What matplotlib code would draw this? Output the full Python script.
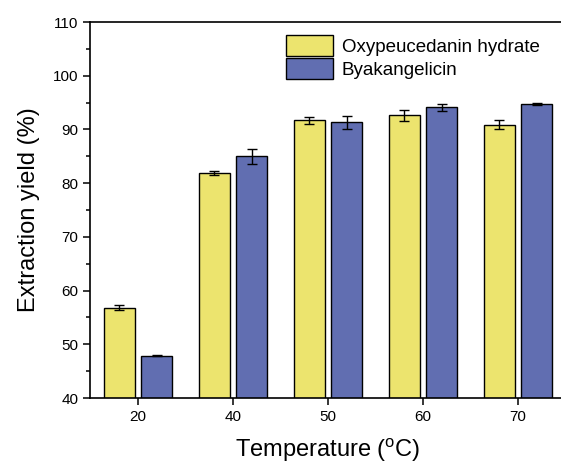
import numpy as np
import matplotlib.pyplot as plt

plt.rcParams['font.family'] = ['Liberation Sans', 'DejaVu Sans']
plt.rcParams['mathtext.fontset'] = 'custom'
plt.rcParams['mathtext.rm'] = 'Liberation Sans'

temps = ["20", "40", "50", "60", "70"]
oxy = [56.8, 81.9, 91.7, 92.6, 90.9]
oxy_err = [0.5, 0.45, 0.7, 1.1, 0.9]
byak = [47.9, 85.0, 91.3, 94.1, 94.8]
byak_err = [0.15, 1.4, 1.2, 0.6, 0.2]

fig = plt.figure(figsize=(5.61, 4.65), dpi=100)
ax = fig.add_axes([90 / 561, 67 / 465, 476 / 561, 376 / 465])

x = np.arange(len(temps))
w = 0.32
off = 0.195
ekw = dict(ecolor='black', elinewidth=1, capsize=3.5, capthick=1)
ax.bar(x - off, oxy, w, yerr=oxy_err, color='#ECE46E', edgecolor='black',
       linewidth=1, error_kw=ekw, label='Oxypeucedanin hydrate')
ax.bar(x + off, byak, w, yerr=byak_err, color='#616EB1', edgecolor='black',
       linewidth=1, error_kw=ekw, label='Byakangelicin')

ax.set_xlim(-0.505, 4.505)
ax.set_ylim(40, 110)
ax.set_xticks(x)
ax.set_xticklabels(temps)
ax.set_yticks(np.arange(40, 111, 10))
ax.set_yticks(np.arange(45, 110, 10), minor=True)
ax.tick_params(axis='both', direction='out', labelsize=11, width=1.1, length=5)
ax.tick_params(axis='y', which='minor', direction='out', width=1.1, length=3)
for s in ax.spines.values():
    s.set_linewidth(1.2)

ax.set_xlabel('Temperature ($^{\\rm o}$C)', fontsize=17, labelpad=9)
ax.set_ylabel('Extraction yield (%)', fontsize=17, labelpad=9)

ax.legend(loc='upper left', bbox_to_anchor=(0.385, 1.0), frameon=False,
          fontsize=13.5, handlelength=2.5, handleheight=1.35,
          labelspacing=0.12, handletextpad=0.45, borderaxespad=0.3)

fig.savefig('out.png', dpi=100)
